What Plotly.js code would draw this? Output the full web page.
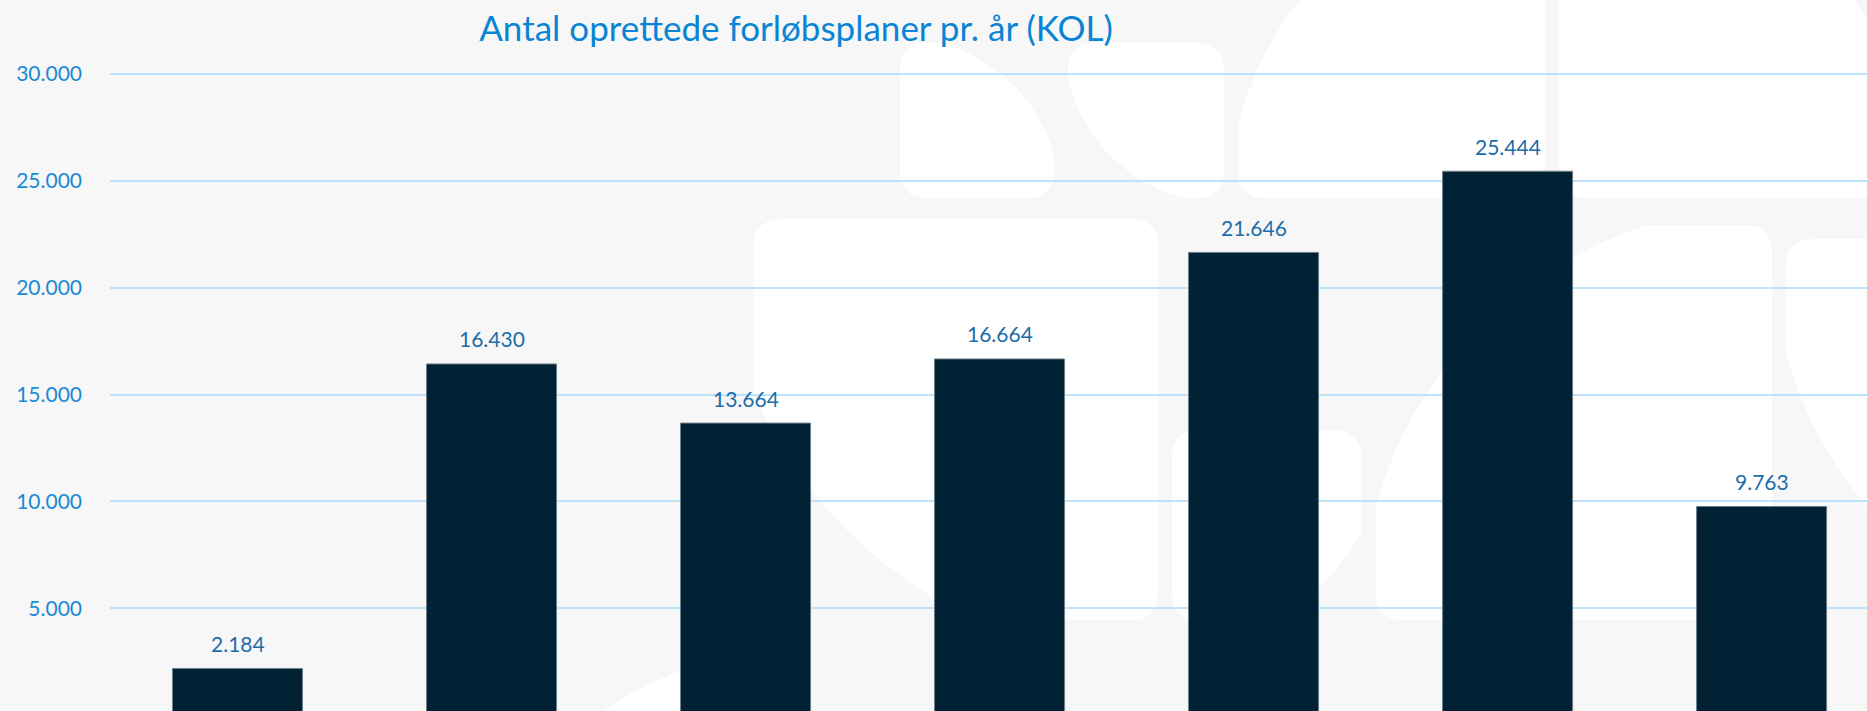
<!DOCTYPE html>
<html>
<head>
<meta charset="utf-8">
<script src="https://cdn.plot.ly/plotly-3.0.1.min.js"></script>
<style>
  html, body { margin: 0; padding: 0; background: #f7f7f7; }
  #chart { width: 1867px; height: 711px; }
</style>
</head>
<body>
<div id="chart"></div>
<script>
// ---- data ----
const categories = ['2017', '2018', '2019', '2020', '2021', '2022', '2023'];
const values = [2184, 16430, 13664, 16664, 21646, 25444, 9763];
const yTickValues = [5000, 10000, 15000, 20000, 25000, 30000];
const yTickLabels = ['5.000', '10.000', '15.000', '20.000', '25.000', '30.000'];
const chartTitle = 'Antal oprettede forløbsplaner pr. år (KOL)';

// ---- helpers ----
function fmt(v) { return String(v).replace(/\B(?=(\d{3})+(?!\d))/g, '.'); }

const W = 1867, H = 711, plotL = 110, plotW = W - plotL;
function toPaper(px, py) { return [(px - plotL) / plotW, 1 - py / H]; }

// decorative watermark: intersection of a rounded rectangle and a disc
function blob(rect, r, circ) {
  const [x0, y0, x1, y1] = rect;
  const [cx, cy, R] = circ;
  function inside(x, y) {
    if (x < x0 || x > x1 || y < y0 || y > y1) return false;
    const qx = Math.max(x0 + r - x, 0, x - (x1 - r));
    const qy = Math.max(y0 + r - y, 0, y - (y1 - r));
    if (qx * qx + qy * qy > r * r) return false;
    return (x - cx) * (x - cx) + (y - cy) * (y - cy) <= R * R;
  }
  const mx = ((x0 + x1) / 2 + cx) / 2, my = ((y0 + y1) / 2 + cy) / 2;
  const pts = [];
  for (let i = 0; i < 360; i++) {
    const a = i / 360 * Math.PI * 2, dx = Math.cos(a), dy = Math.sin(a);
    let lo = 0, hi = 3000;
    for (let k = 0; k < 30; k++) {
      const mid = (lo + hi) / 2;
      if (inside(mx + dx * mid, my + dy * mid)) lo = mid; else hi = mid;
    }
    const p = toPaper(mx + dx * lo, my + dy * lo);
    pts.push(p[0].toFixed(5) + ',' + p[1].toFixed(5));
  }
  return {
    type: 'path', xref: 'paper', yref: 'paper', layer: 'below',
    path: 'M' + pts.join('L') + 'Z',
    fillcolor: '#ffffff', line: { width: 0 }
  };
}

const watermark = [
  blob([900, 43, 1054, 198], 24, [900, 198, 160]),
  blob([1068, 43, 1224, 198], 24, [1224, 43, 160]),
  blob([1238, -120, 1545, 198], 24, [1545, 198, 315]),
  blob([1559, -120, 1900, 198], 24, [1559, 198, 356]),
  blob([754, 219, 1158, 620], 24, [1158, 219, 440]),
  blob([1172, 430, 1361, 620], 24, [1172, 430, 215]),
  blob([1376, 225, 1772, 620], 24, [1772, 618, 412]),
  blob([1786, 239, 2190, 640], 24, [2190, 239, 420]),
  blob([560, 640, 800, 1000], 24, [800, 1000, 350])
];

// category axes take the category's serial number for annotations
const labelAnnotations = values.map((v, i) => ({
  x: i, y: v, xref: 'x', yref: 'y',
  text: fmt(v), showarrow: false,
  yanchor: 'middle', yshift: 25,
  font: { family: 'Lato, "Open Sans", sans-serif', size: 21, color: '#1b6daa' }
}));

const trace = {
  type: 'bar',
  x: categories,
  y: values,
  marker: { color: '#012135', line: { color: '#6f808c', width: 1 } },
  hoverinfo: 'skip'
};

const layout = {
  width: W, height: H,
  margin: { l: plotL, r: 0, t: 0, b: 0, pad: 0 },
  paper_bgcolor: '#f7f7f7',
  plot_bgcolor: 'rgba(0,0,0,0)',
  showlegend: false,
  bargap: 0.488,
  title: {
    text: chartTitle,
    x: 796 / W, xref: 'container', xanchor: 'center',
    y: 1 - 29 / H, yref: 'container', yanchor: 'middle',
    font: { family: 'Lato, "Open Sans", sans-serif', size: 35, color: '#0a84d4' }
  },
  xaxis: {
    type: 'category',
    range: [-0.502, 6.415],
    showticklabels: false,
    showgrid: false, zeroline: false, showline: false, ticks: ''
  },
  yaxis: {
    range: [198, 33452],
    tickvals: yTickValues,
    ticktext: yTickLabels,
    showgrid: true, gridcolor: '#bde3fb', gridwidth: 2,
    zeroline: false, showline: false, ticks: '',
    ticklabelstandoff: 27,
    tickfont: { family: 'Lato, "Open Sans", sans-serif', size: 21, color: '#1a8ad6' }
  },
  shapes: watermark,
  annotations: labelAnnotations
};

Plotly.newPlot('chart', [trace], layout, { staticPlot: true, displayModeBar: false });
</script>
</body>
</html>
